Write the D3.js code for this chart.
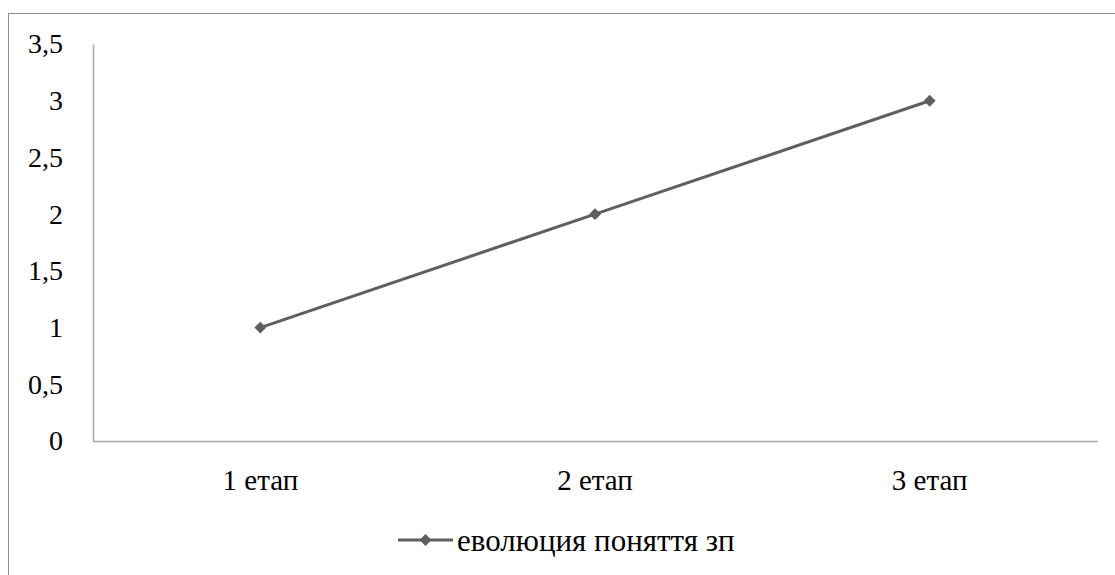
<!DOCTYPE html>
<html>
<head>
<meta charset="utf-8">
<script src="https://cdn.jsdelivr.net/npm/d3@7"></script>
<style>
  html, body { margin: 0; padding: 0; background: #fff; }
  svg { display: block; }
  svg text { font-family: "Liberation Serif", "DejaVu Serif", "Noto Serif", serif !important; fill: #000; }
</style>
</head>
<body>
<svg id="chart" width="1115" height="575"></svg>
<script>
// Stages and values of the series
const categories = ["1 етап", "2 етап", "3 етап"];
const values = [1, 2, 3];
const seriesName = "еволюция поняття зп";
const yTicks = [0, 0.5, 1, 1.5, 2, 2.5, 3, 3.5];

const svg = d3.select("#chart");
const W = 1115, H = 575;
const plot = { left: 93, right: 1097, top: 44, bottom: 441 };
const lineColor = "#5f5f5f";
const axisColor = "#a6a6a6";

// Outer frame of the chart area
svg.append("rect")
  .attr("x", 8.5).attr("y", 13.5)
  .attr("width", W + 10).attr("height", H + 10)
  .attr("fill", "none").attr("stroke", "#8c8c8c").attr("stroke-width", 1);

const x = d3.scaleBand().domain(categories).range([plot.left, plot.right]);
const y = d3.scaleLinear().domain([0, 3.5]).range([plot.bottom, plot.top]);

// Y axis: line plus labels, no tick marks
const yAxis = svg.append("g")
  .attr("transform", `translate(${plot.left},0)`)
  .call(d3.axisLeft(y).tickValues(yTicks).tickSize(0).tickPadding(30)
    .tickFormat(d => String(d).replace(".", ",")));
yAxis.attr("font-family", null).attr("font-size", 28);
yAxis.select(".domain").attr("stroke", axisColor).attr("stroke-width", 1.5);

// X axis
const xAxis = svg.append("g")
  .attr("transform", `translate(0,${plot.bottom})`)
  .call(d3.axisBottom(x).tickSize(0).tickPadding(28));
xAxis.attr("font-family", null).attr("font-size", 29);
xAxis.select(".domain").attr("stroke", axisColor).attr("stroke-width", 1.5);

// Series line
const pts = categories.map((c, i) => [x(c) + x.bandwidth() / 2, y(values[i])]);
svg.append("path")
  .attr("d", d3.line()(pts))
  .attr("fill", "none").attr("stroke", lineColor).attr("stroke-width", 3);

const diamond = d3.symbol().type(d3.symbolDiamond2).size(90);
svg.selectAll(".marker").data(pts).join("path")
  .attr("class", "marker")
  .attr("transform", d => `translate(${d[0]},${d[1]})`)
  .attr("d", diamond)
  .attr("fill", lineColor);

// Legend
const legY = 540;
svg.append("line")
  .attr("x1", 398).attr("x2", 453).attr("y1", legY).attr("y2", legY)
  .attr("stroke", lineColor).attr("stroke-width", 3);
svg.append("path")
  .attr("transform", `translate(425.5,${legY})`)
  .attr("d", diamond).attr("fill", lineColor);
svg.append("text")
  .attr("x", 457).attr("y", legY).attr("dy", "0.35em")
  .attr("font-size", 31)
  .text(seriesName);
</script>
</body>
</html>
